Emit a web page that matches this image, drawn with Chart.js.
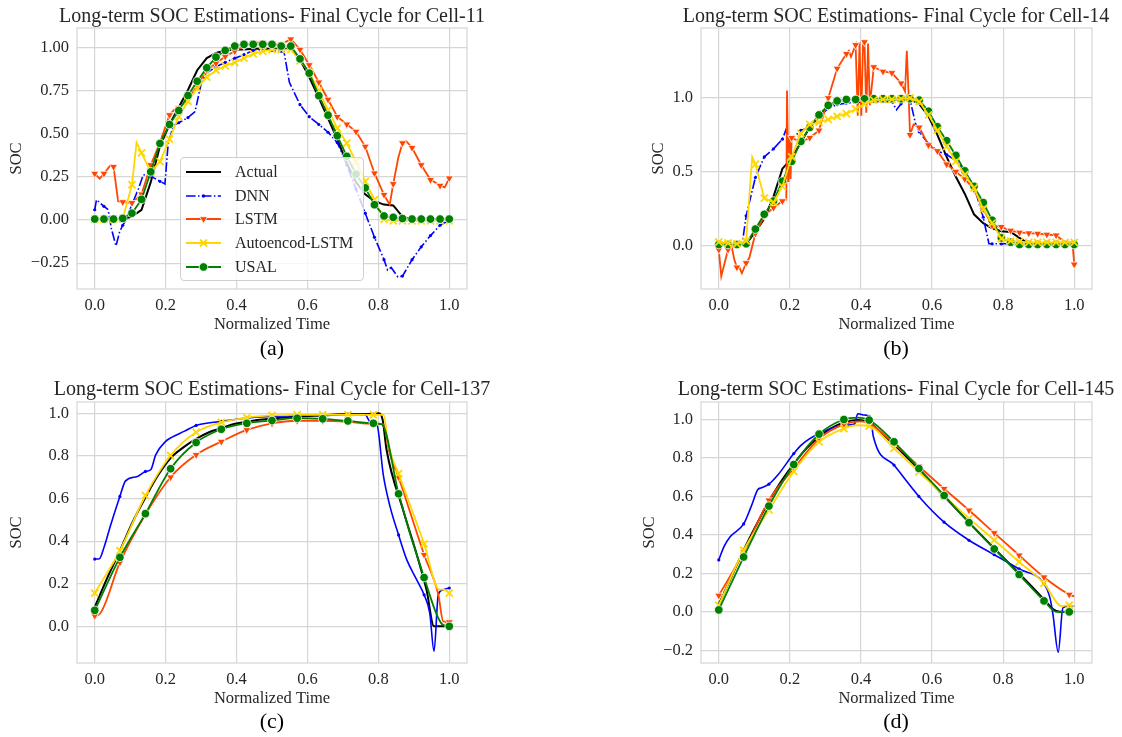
<!DOCTYPE html>
<html>
<head>
<meta charset="utf-8">
<script src="https://cdn.jsdelivr.net/npm/chart.js@4.4.1/dist/chart.umd.min.js"></script>
<style>
  html, body { margin: 0; padding: 0; background: #fff; overflow: hidden; }
  #fig { position: relative; width: 1122px; height: 737px; overflow: hidden;
         font-family: "Liberation Serif", "Times New Roman", serif; color: #262626; }
  #fig canvas { position: absolute; }
  .ttl { position: absolute; width: 600px; text-align: center; font-size: 20px; line-height: 24px; white-space: nowrap; }
  .cap { position: absolute; width: 100px; text-align: center; font-size: 22px; line-height: 26px; color: #000; }
  #legend { position: absolute; left: 180px; top: 157px; width: 184px; height: 124px; box-sizing: border-box;
            border: 1px solid #cfcfcf; border-radius: 4px; background: rgba(255,255,255,0.8); }
  #legend .row { position: absolute; left: 0; height: 24px; width: 100%; }
  #legend svg { position: absolute; left: 5px; top: 4px; }
  #legend span { position: absolute; left: 54px; top: 0; font-size: 16px; line-height: 24px; white-space: nowrap; }
</style>
</head>
<body>
<div id="fig">
  <canvas id="ca" width="561" height="340" style="left:0;top:0"></canvas>
  <canvas id="cb" width="482" height="340" style="left:640px;top:0"></canvas>
  <canvas id="cc" width="561" height="340" style="left:0;top:374px"></canvas>
  <canvas id="cd" width="482" height="340" style="left:640px;top:374px"></canvas>

  <div class="ttl" style="left:-28px;top:3px">Long-term SOC Estimations- Final Cycle for Cell-11</div>
  <div class="ttl" style="left:596px;top:3px">Long-term SOC Estimations- Final Cycle for Cell-14</div>
  <div class="ttl" style="left:-28px;top:376px">Long-term SOC Estimations- Final Cycle for Cell-137</div>
  <div class="ttl" style="left:596px;top:376px">Long-term SOC Estimations- Final Cycle for Cell-145</div>

  <div class="cap" style="left:222px;top:335px">(a)</div>
  <div class="cap" style="left:846px;top:335px">(b)</div>
  <div class="cap" style="left:222px;top:708px">(c)</div>
  <div class="cap" style="left:846px;top:708px">(d)</div>

  <div id="legend"></div>
</div>

<script>
// -----------------------------
// DATA
// -----------------------------
const seriesNames = ["Actual", "DNN", "LSTM", "Autoencod-LSTM", "USAL"];
const seriesColors = ["#000000", "#0000ff", "#ff4500", "#ffd700", "#008000"];

const xTicks = [0, 0.2, 0.4, 0.6, 0.8, 1.0];
const aTicksY = [-0.25, 0, 0.25, 0.5, 0.75, 1.0];
const bTicksY = [0, 0.5, 1.0];
const cTicksY = [0, 0.2, 0.4, 0.6, 0.8, 1.0];
const dTicksY = [-0.2, 0, 0.2, 0.4, 0.6, 0.8, 1.0];

// (a) Cell-11  -- [normalized time, SOC]
const aActual = [[0,0.005],[0.026,0.005],[0.053,0.005],[0.079,0.005],[0.105,0.02],[0.132,0.06],[0.158,0.22],[0.184,0.43],
  [0.211,0.555],[0.237,0.655],[0.263,0.755],[0.289,0.87],[0.316,0.94],[0.342,0.97],[0.368,0.985],[0.395,0.99],[0.421,0.99],
  [0.447,0.995],[0.474,0.995],[0.5,0.995],[0.526,0.995],[0.553,0.995],[0.579,0.93],[0.605,0.83],[0.632,0.71],[0.658,0.59],
  [0.684,0.47],[0.711,0.33],[0.737,0.22],[0.763,0.15],[0.789,0.11],[0.816,0.09],[0.842,0.085],[0.868,0.02],[0.895,0.005],
  [0.921,0.005],[0.947,0.005],[0.974,0.005],[1,0.005]];
const aDnn = [[0,0.06],[0.005,0.118],[0.026,0.08],[0.038,0.06],[0.047,-0.05],[0.06,-0.15],[0.07,-0.07],[0.079,-0.03],
  [0.09,0.005],[0.105,0.09],[0.123,0.18],[0.137,0.263],[0.158,0.255],[0.184,0.225],[0.198,0.21],[0.207,0.44],[0.222,0.55],
  [0.237,0.565],[0.263,0.595],[0.283,0.63],[0.301,0.8],[0.316,0.855],[0.342,0.89],[0.368,0.915],[0.395,0.94],[0.421,0.96],
  [0.447,0.985],[0.474,0.99],[0.5,0.985],[0.526,0.98],[0.534,0.975],[0.549,0.8],[0.579,0.67],[0.605,0.6],[0.632,0.555],
  [0.658,0.51],[0.684,0.45],[0.695,0.4],[0.711,0.32],[0.737,0.18],[0.763,0.04],[0.789,-0.1],[0.816,-0.23],[0.826,-0.29],
  [0.836,-0.275],[0.855,-0.33],[0.868,-0.325],[0.895,-0.23],[0.921,-0.155],[0.947,-0.09],[0.974,-0.03],[1,0]];
const aLstm = [[0,0.27],[0.014,0.24],[0.026,0.27],[0.045,0.32],[0.053,0.31],[0.066,0.11],[0.079,0.105],[0.105,0.1],
  [0.132,0.15],[0.158,0.32],[0.184,0.45],[0.211,0.61],[0.224,0.64],[0.237,0.65],[0.263,0.7],[0.289,0.78],[0.316,0.87],
  [0.342,0.91],[0.368,0.95],[0.395,0.98],[0.421,1.01],[0.447,1.03],[0.474,1.03],[0.5,1.02],[0.526,1.02],[0.553,1.05],
  [0.579,0.99],[0.605,0.9],[0.632,0.8],[0.658,0.7],[0.684,0.6],[0.711,0.556],[0.737,0.514],[0.763,0.427],[0.789,0.272],
  [0.816,0.147],[0.832,0.09],[0.842,0.21],[0.856,0.36],[0.868,0.447],[0.878,0.46],[0.895,0.42],[0.921,0.32],[0.947,0.234],
  [0.963,0.215],[0.974,0.2],[0.987,0.19],[1,0.243]];
const aAuto = [[0,0.005],[0.026,0.005],[0.053,0.005],[0.079,0.008],[0.105,0.205],[0.118,0.45],[0.132,0.39],[0.158,0.28],
  [0.184,0.34],[0.211,0.47],[0.237,0.6],[0.263,0.69],[0.289,0.765],[0.316,0.83],[0.342,0.87],[0.368,0.895],[0.395,0.915],
  [0.421,0.94],[0.447,0.965],[0.474,0.98],[0.5,0.99],[0.526,0.99],[0.553,0.99],[0.579,0.925],[0.605,0.86],[0.632,0.75],
  [0.658,0.64],[0.684,0.534],[0.711,0.447],[0.737,0.34],[0.763,0.224],[0.789,0.118],[0.816,0.005],[0.842,-0.005],
  [0.868,-0.005],[0.895,-0.005],[0.921,-0.005],[0.947,-0.005],[0.974,-0.005],[1,-0.005]];
const aUsal = [[0,0.006],[0.026,0.006],[0.053,0.006],[0.079,0.01],[0.105,0.04],[0.132,0.12],[0.158,0.28],[0.184,0.445],
  [0.211,0.555],[0.237,0.636],[0.263,0.723],[0.289,0.806],[0.316,0.884],[0.342,0.946],[0.368,0.985],[0.395,1.01],
  [0.421,1.02],[0.447,1.02],[0.474,1.02],[0.5,1.02],[0.526,1.01],[0.553,1.01],[0.579,0.936],[0.605,0.853],[0.632,0.722],
  [0.658,0.609],[0.684,0.49],[0.711,0.37],[0.737,0.267],[0.763,0.187],[0.789,0.089],[0.816,0.024],[0.842,0.016],
  [0.868,0.009],[0.895,0.006],[0.921,0.006],[0.947,0.006],[0.974,0.006],[1,0.006]];

// (b) Cell-14
const bActual = [[0,0.005],[0.026,0.005],[0.051,0.005],[0.077,0.01],[0.103,0.09],[0.128,0.18],[0.154,0.33],[0.179,0.52],
  [0.205,0.59],[0.231,0.7],[0.256,0.8],[0.282,0.88],[0.308,0.945],[0.333,0.975],[0.359,0.99],[0.385,0.99],[0.41,0.99],
  [0.436,0.99],[0.462,0.99],[0.487,0.99],[0.513,0.99],[0.538,0.99],[0.564,0.96],[0.59,0.875],[0.615,0.75],[0.641,0.6],
  [0.667,0.465],[0.692,0.35],[0.718,0.21],[0.744,0.15],[0.769,0.115],[0.795,0.095],[0.821,0.09],[0.846,0.05],[0.872,0.01],
  [0.897,0.005],[0.923,0.005],[0.949,0.005],[0.974,0.005],[1,0.005]];
const bDnn = [[0,0.005],[0.026,0.005],[0.051,0.005],[0.066,0.01],[0.077,0.2],[0.103,0.46],[0.128,0.6],[0.154,0.655],
  [0.179,0.72],[0.19,0.79],[0.195,0.72],[0.205,0.72],[0.231,0.78],[0.256,0.8],[0.282,0.87],[0.308,0.93],[0.333,0.955],
  [0.359,0.965],[0.385,0.97],[0.41,0.97],[0.436,0.975],[0.462,0.975],[0.487,0.975],[0.5,0.92],[0.513,0.96],[0.532,1.02],
  [0.538,0.99],[0.553,0.83],[0.564,0.77],[0.59,0.69],[0.615,0.64],[0.641,0.615],[0.667,0.575],[0.692,0.5],[0.718,0.4],
  [0.744,0.19],[0.76,0.01],[0.769,0.01],[0.795,0.01],[0.821,0.01],[0.846,0.01],[0.872,0.005],[0.897,0.005],[0.923,0.005],
  [0.949,0.005],[0.974,0.005],[1,0.005]];
const bLstm = [[0,-0.03],[0.007,-0.21],[0.026,-0.03],[0.035,0.005],[0.044,-0.1],[0.051,-0.15],[0.058,-0.15],[0.065,-0.19],
  [0.077,-0.12],[0.086,-0.085],[0.103,0.08],[0.128,0.2],[0.154,0.255],[0.179,0.3],[0.19,0.31],[0.192,1.05],[0.196,0.43],
  [0.199,0.73],[0.202,0.45],[0.205,0.73],[0.231,0.7],[0.256,0.73],[0.282,0.78],[0.308,1.0],[0.333,1.2],[0.359,1.3],
  [0.366,1.32],[0.372,1.28],[0.385,1.36],[0.391,0.88],[0.396,1.38],[0.401,0.88],[0.406,1.37],[0.41,1.38],[0.415,0.9],
  [0.42,1.37],[0.425,0.95],[0.436,1.21],[0.462,1.18],[0.487,1.17],[0.513,1.1],[0.524,1.045],[0.529,1.32],[0.534,1.03],
  [0.538,0.75],[0.548,0.82],[0.564,0.8],[0.59,0.68],[0.615,0.64],[0.641,0.55],[0.667,0.5],[0.692,0.45],[0.718,0.38],
  [0.744,0.245],[0.769,0.135],[0.795,0.125],[0.821,0.1],[0.846,0.087],[0.872,0.082],[0.897,0.079],[0.923,0.073],
  [0.949,0.068],[0.974,0.02],[0.995,0.02],[1,-0.13]];
const bAuto = [[0,0.022],[0.026,0.015],[0.051,0.01],[0.077,0.03],[0.094,0.6],[0.103,0.55],[0.128,0.32],[0.154,0.29],
  [0.179,0.4],[0.205,0.6],[0.231,0.76],[0.256,0.82],[0.282,0.835],[0.308,0.855],[0.333,0.875],[0.359,0.893],[0.385,0.925],
  [0.41,0.958],[0.436,0.985],[0.462,0.99],[0.487,0.99],[0.513,0.994],[0.538,1.0],[0.564,0.975],[0.59,0.885],[0.615,0.78],
  [0.641,0.67],[0.667,0.57],[0.692,0.48],[0.718,0.39],[0.744,0.245],[0.769,0.15],[0.795,0.045],[0.821,0.03],[0.846,0.025],
  [0.872,0.02],[0.897,0.02],[0.923,0.02],[0.949,0.02],[0.974,0.02],[1,0.02]];
const bUsal = [[0,0.005],[0.026,0.005],[0.051,0.005],[0.077,0.01],[0.103,0.11],[0.128,0.21],[0.154,0.3],[0.179,0.435],
  [0.205,0.57],[0.231,0.705],[0.256,0.8],[0.282,0.885],[0.308,0.95],[0.333,0.98],[0.359,0.99],[0.385,0.99],[0.41,0.994],
  [0.436,0.995],[0.462,0.995],[0.487,0.995],[0.513,0.995],[0.538,0.995],[0.564,0.985],[0.59,0.91],[0.615,0.805],
  [0.641,0.71],[0.667,0.61],[0.692,0.505],[0.718,0.4],[0.744,0.29],[0.769,0.17],[0.795,0.05],[0.821,0.02],[0.846,0.005],
  [0.872,0.005],[0.897,0.005],[0.923,0.005],[0.949,0.005],[0.974,0.005],[1,0.005]];

// (c) Cell-137
const cActual = [[0,0.09],[0.036,0.23],[0.071,0.355],[0.107,0.49],[0.143,0.605],[0.179,0.71],[0.214,0.79],[0.25,0.84],
  [0.286,0.88],[0.321,0.91],[0.357,0.93],[0.393,0.95],[0.429,0.96],[0.464,0.97],[0.5,0.975],[0.571,0.985],[0.643,0.99],
  [0.714,0.995],[0.786,0.998],[0.8,1.0],[0.812,0.97],[0.823,0.83],[0.87,0.545],[0.907,0.344],[0.936,0.17],[0.957,0],
  [0.983,0],[1,0]];
const cDnn = [[0,0.316],[0.012,0.316],[0.027,0.375],[0.045,0.476],[0.071,0.61],[0.087,0.683],[0.12,0.703],[0.143,0.727],
  [0.158,0.735],[0.172,0.805],[0.2,0.868],[0.217,0.887],[0.252,0.915],[0.286,0.943],[0.357,0.962],[0.429,0.978],
  [0.5,0.985],[0.571,0.99],[0.643,0.993],[0.714,0.996],[0.763,0.993],[0.777,0.96],[0.796,0.946],[0.814,0.71],[0.833,0.562],
  [0.857,0.429],[0.88,0.313],[0.908,0.219],[0.929,0.148],[0.945,0.062],[0.957,-0.117],[0.969,0.148],[0.983,0.172],[1,0.18]];
const cLstm = [[0,0.05],[0.012,0.055],[0.071,0.3],[0.143,0.525],[0.214,0.7],[0.286,0.805],[0.357,0.867],[0.429,0.922],
  [0.5,0.953],[0.571,0.965],[0.643,0.965],[0.714,0.96],[0.786,0.95],[0.815,0.948],[0.829,0.83],[0.857,0.7],[0.929,0.336],
  [0.969,0.15],[0.983,0.023],[1,0.02]];
const cAuto = [[0,0.156],[0.071,0.355],[0.143,0.614],[0.214,0.802],[0.286,0.911],[0.357,0.957],[0.429,0.98],[0.5,0.99],
  [0.571,0.993],[0.643,0.993],[0.714,0.993],[0.786,0.993],[0.815,0.993],[0.828,0.85],[0.857,0.717],[0.929,0.387],
  [0.972,0.172],[0.984,0.172],[1,0.156]];
const cUsal = [[0,0.075],[0.071,0.324],[0.143,0.529],[0.214,0.74],[0.286,0.863],[0.357,0.925],[0.429,0.953],[0.5,0.966],
  [0.571,0.977],[0.643,0.974],[0.714,0.964],[0.786,0.953],[0.81,0.948],[0.857,0.622],[0.929,0.229],[0.98,0.01],[1,0]];

// (d) Cell-145
const dActual = [[0,0.04],[0.035,0.18],[0.07,0.32],[0.105,0.45],[0.141,0.575],[0.176,0.68],[0.211,0.77],[0.247,0.85],
  [0.282,0.91],[0.317,0.955],[0.352,0.985],[0.39,0.998],[0.423,0.985],[0.458,0.93],[0.493,0.87],[0.563,0.74],[0.634,0.6],
  [0.704,0.465],[0.775,0.33],[0.845,0.2],[0.915,0.065],[0.94,0.015],[0.96,0],[1,0]];
const dDnn = [[0,0.27],[0.015,0.34],[0.032,0.39],[0.07,0.457],[0.091,0.547],[0.11,0.636],[0.12,0.645],[0.141,0.664],
  [0.166,0.711],[0.211,0.823],[0.232,0.867],[0.282,0.927],[0.352,0.97],[0.382,0.976],[0.391,1.03],[0.41,1.023],
  [0.423,1.017],[0.429,0.988],[0.435,0.91],[0.493,0.763],[0.563,0.6],[0.634,0.466],[0.704,0.372],[0.775,0.297],
  [0.845,0.223],[0.915,0.147],[0.931,0.078],[0.94,-0.01],[0.955,-0.21],[0.968,0.02],[0.986,0.03],[1,0.03]];
const dLstm = [[0,0.085],[0.07,0.31],[0.141,0.58],[0.211,0.745],[0.282,0.9],[0.352,0.975],[0.4,0.99],[0.423,0.98],
  [0.493,0.875],[0.563,0.757],[0.634,0.64],[0.704,0.528],[0.775,0.41],[0.845,0.294],[0.915,0.18],[0.986,0.09],[1,0.08]];
const dAuto = [[0,0.035],[0.07,0.32],[0.141,0.53],[0.211,0.73],[0.282,0.884],[0.352,0.953],[0.39,0.97],[0.423,0.966],
  [0.493,0.85],[0.563,0.728],[0.634,0.602],[0.704,0.486],[0.775,0.373],[0.845,0.26],[0.915,0.148],[0.965,0.03],
  [0.986,0.035],[1,0.03]];
const dUsal = [[0,0.01],[0.07,0.285],[0.141,0.55],[0.211,0.766],[0.282,0.924],[0.352,1.0],[0.39,1.01],[0.423,0.997],
  [0.493,0.884],[0.563,0.745],[0.634,0.605],[0.704,0.464],[0.775,0.327],[0.845,0.194],[0.915,0.057],[0.95,0],
  [0.986,0],[1,0]];

// -----------------------------
// STYLE
// -----------------------------
const GRID = "#d6d6d6";
const DASH_DOT = [9.6, 2.4, 1.5, 2.4];
const STYLES = [
  { width: 2.0, point: null },
  { width: 1.6, point: "circle", r: 1.6, bw: 0 },
  { width: 1.8, point: "triangle", r: 4.6, rot: 180, bw: 0.8 },
  { width: 1.8, point: "crossRot", r: 5, bw: 1.8 },
  { width: 1.8, point: "circle", r: 4.3, bw: 0.8 }
];

Chart.defaults.font.family = '"Liberation Serif", "Times New Roman", serif';
Chart.defaults.color = "#262626";

function fmt(v, digits) {
  const s = Math.abs(v).toFixed(digits);
  return (v < -1e-9 ? "\u2212" : "") + s;
}

// light grey box round the plot area (seaborn whitegrid spines)
const framePlugin = {
  id: "frame",
  beforeDatasetsDraw(chart) {
    const a = chart.chartArea, c = chart.ctx;
    c.save();
    c.strokeStyle = GRID;
    c.lineWidth = 1.2;
    c.strokeRect(a.left, a.top, a.right - a.left, a.bottom - a.top);
    c.restore();
  }
};

// -----------------------------
// PANEL BUILDER
// -----------------------------
function makePanel(id, series, cfg) {
  const datasets = series.map((pts, i) => {
    const st = STYLES[i];
    const onMark = ctx => {
      if (!ctx.raw) return false;
      const k = ctx.raw.x / cfg.markStep;
      return Math.abs(k - Math.round(k)) < 0.03;
    };
    return {
      label: seriesNames[i],
      data: pts.map(p => ({ x: p[0], y: p[1] })),
      borderColor: seriesColors[i],
      backgroundColor: seriesColors[i],
      borderWidth: st.width,
      borderDash: (i === 1 && cfg.dnnDash) ? DASH_DOT : [],
      tension: 0,
      cubicInterpolationMode: cfg.smooth ? "monotone" : "default",
      pointStyle: st.point || "circle",
      pointRotation: st.rot || 0,
      pointRadius: ctx => (st.point && onMark(ctx)) ? st.r : 0,
      pointHoverRadius: 0,
      pointBorderWidth: st.bw || 0,
      pointBorderColor: st.point === "crossRot" ? seriesColors[i] : "#ffffff",
      pointBackgroundColor: seriesColors[i],
      order: cfg.order[i]
    };
  });

  new Chart(document.getElementById(id), {
    type: "line",
    data: { datasets },
    plugins: [framePlugin],
    options: {
      responsive: false,
      animation: false,
      devicePixelRatio: 1,
      layout: { padding: { top: 28, left: 0, right: cfg.padRight, bottom: 0 } },
      plugins: { legend: { display: false }, tooltip: { enabled: false } },
      events: [],
      scales: {
        x: {
          type: "linear", min: -0.05, max: 1.05,
          afterBuildTicks: s => { s.ticks = xTicks.map(v => ({ value: v })); },
          afterFit: s => { s.height = 51; },
          grid: { color: GRID, lineWidth: 1.2, drawTicks: false },
          border: { display: false },
          ticks: { padding: 7, font: { size: 16.5 }, maxRotation: 0, autoSkip: false, callback: v => fmt(v, 1) },
          title: { display: true, text: "Normalized Time", font: { size: 16.5 }, padding: { top: 0, bottom: 5 } }
        },
        y: {
          type: "linear", min: cfg.yMin, max: cfg.yMax,
          afterBuildTicks: s => { s.ticks = cfg.yTicks.map(v => ({ value: v })); },
          afterFit: s => { s.width = cfg.axisWidth; },
          grid: { color: GRID, lineWidth: 1.2, drawTicks: false },
          border: { display: false },
          ticks: { padding: 8, font: { size: 16.5 }, autoSkip: false, callback: v => fmt(v, cfg.digits) },
          title: { display: true, text: "SOC", font: { size: 16.5 }, padding: { top: cfg.socPad, bottom: 0 } }
        }
      }
    }
  });
}

// -----------------------------
// LEGEND (inside panel a)
// -----------------------------
function handleSvg(i) {
  const c = seriesColors[i], y = 8, m = 17.5;
  const st = STYLES[i];
  let s = `<line x1="0" y1="${y}" x2="35" y2="${y}" stroke="${c}" stroke-width="${st.width}"` +
          (i === 1 ? ` stroke-dasharray="${DASH_DOT.join(" ")}"` : "") + `/>`;
  if (i === 1) s += `<circle cx="${m}" cy="${y}" r="1.8" fill="${c}"/>`;
  if (i === 2) s += `<polygon points="${m - 4},${y - 2.3} ${m + 4},${y - 2.3} ${m},${y + 4.6}" fill="${c}" stroke="#fff" stroke-width="0.8"/>`;
  if (i === 3) s += `<path d="M${m - 3.5} ${y - 3.5} L${m + 3.5} ${y + 3.5} M${m - 3.5} ${y + 3.5} L${m + 3.5} ${y - 3.5}" stroke="${c}" stroke-width="1.8"/>`;
  if (i === 4) s += `<circle cx="${m}" cy="${y}" r="4.3" fill="${c}" stroke="#fff" stroke-width="0.8"/>`;
  return s;
}

function buildLegend() {
  const box = document.getElementById("legend");
  seriesNames.forEach((name, i) => {
    const row = document.createElement("div");
    row.className = "row";
    row.style.top = (1.8 + 23.8 * i) + "px";
    row.innerHTML = `<svg width="40" height="16">${handleSvg(i)}</svg><span>${name}</span>`;
    box.appendChild(row);
  });
}

// -----------------------------
// INITIALIZE
// -----------------------------
const ORDER_USAL_TOP = [5, 4, 3, 2, 1];
const ORDER_AUTO_TOP = [5, 4, 3, 1, 2];

makePanel("ca", [aActual, aDnn, aLstm, aAuto, aUsal],
  { yMin: -0.40, yMax: 1.115, yTicks: aTicksY, digits: 2, markStep: 1 / 38, smooth: false, dnnDash: true,
    order: ORDER_USAL_TOP, axisWidth: 77, padRight: 94, socPad: 7 });
makePanel("cb", [bActual, bDnn, bLstm, bAuto, bUsal],
  { yMin: -0.297, yMax: 1.475, yTicks: bTicksY, digits: 1, markStep: 1 / 39, smooth: false, dnnDash: true,
    order: ORDER_AUTO_TOP, axisWidth: 61, padRight: 30, socPad: 9 });
makePanel("cc", [cActual, cDnn, cLstm, cAuto, cUsal],
  { yMin: -0.172, yMax: 1.053, yTicks: cTicksY, digits: 1, markStep: 1 / 14, smooth: true, dnnDash: false,
    order: ORDER_USAL_TOP, axisWidth: 77, padRight: 94, socPad: 7 });
makePanel("cd", [dActual, dDnn, dLstm, dAuto, dUsal],
  { yMin: -0.266, yMax: 1.091, yTicks: dTicksY, digits: 1, markStep: 5 / 71, smooth: true, dnnDash: false,
    order: ORDER_USAL_TOP, axisWidth: 61, padRight: 30, socPad: 0 });
buildLegend();
</script>
</body>
</html>
